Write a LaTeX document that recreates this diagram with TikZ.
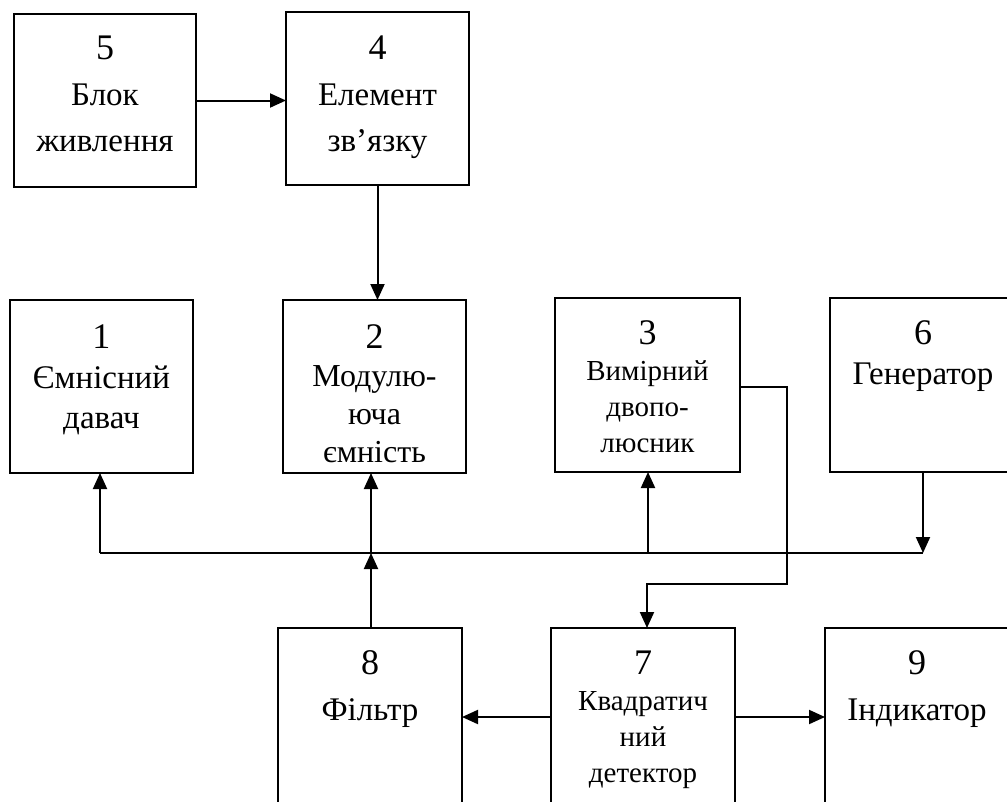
\documentclass[tikz,border=0pt]{standalone}
\usepackage{fontspec}
\setmainfont{Liberation Serif}
\usetikzlibrary{arrows.meta}
\begin{document}
\begin{tikzpicture}[x=1pt,y=-1pt,
  box/.style={draw, line width=2pt, inner sep=0pt, outer sep=0pt},
  txt/.style={align=center, inner sep=0pt, anchor=north},
  big/.style={font=\fontsize{33}{46}\selectfont},
  mid/.style={font=\fontsize{32}{38}\selectfont},
  small/.style={font=\fontsize{29}{36}\selectfont},
  wire/.style={line width=2pt},
  arr/.style={wire, -{Triangle[length=16pt,width=14pt]}}]
\useasboundingbox (0,0) rectangle (1007,801);
\clip (0,0) rectangle (1007,801);
\newcommand{\dg}[1]{{\fontsize{36}{40}\selectfont #1}}
% boxes
\node[box, minimum width=182pt, minimum height=173pt] (b5) at (105,100.5) {};
\node[box, minimum width=183pt, minimum height=173pt] (b4) at (377.5,98.5) {};
\node[box, minimum width=183pt, minimum height=173pt] (b1) at (101.5,386.5) {};
\node[box, minimum width=183pt, minimum height=173pt] (b2) at (374.5,386.5) {};
\node[box, minimum width=185pt, minimum height=174pt] (b3) at (647.5,385) {};
\node[box, minimum width=183pt, minimum height=174pt] (b6) at (921.5,385) {};
\node[box, minimum width=184pt, minimum height=180pt] (b8) at (370,718) {};
\node[box, minimum width=184pt, minimum height=180pt] (b7) at (643,718) {};
\node[box, minimum width=184pt, minimum height=180pt] (b9) at (917,718) {};
% texts
\node[txt, big] (t5) at (105,35.5) {\dg{5}\\Блок\\живлення};
\node[txt, big] (t4) at (377.5,35.5) {\dg{4}\\Елемент\\зв’язку};
\node[txt, font=\fontsize{33}{40}\selectfont] (t1) at (101.5,324.5) {\dg{1}\\Ємнісний\\давач};
\node[txt, mid] (t2) at (374.5,324.5) {\dg{2}\\Модулю-\\юча\\ємність};
\node[txt, small] (t3) at (647.5,320.5) {\dg{3}\\Вимірний\\двопо-\\люсник};
\node[txt, font=\fontsize{33}{40}\selectfont] (t6) at (923,320.5) {\dg{6}\\Генератор};
\node[txt, big] (t8) at (370,650.5) {\dg{8}\\Фільтр};
\node[txt, small] (t7) at (643,650.5) {\dg{7}\\Квадратич\\ний\\детектор};
\node[txt, big] (t9) at (917,650.5) {\dg{9}\\Індикатор};
% coordinates
\coordinate (busL) at (100,553);
\coordinate (busR) at (923,553);
\coordinate (j3) at (648,553);
\coordinate (j8) at (371,553);
\coordinate (k1) at (787,387);
\coordinate (k2) at (647,584);
\coordinate (m) at (0,717);
% connectors
\draw[arr] (b5.east) -- (b4.west |- b5.east);
\draw[arr] (b4.south) -- (b4.south |- b2.north);
\draw[wire] (busL) -- (busR);
\draw[arr] (busL) -- (busL |- b1.south);
\draw[arr] (busR |- b6.south) -- (busR);
\draw[arr] (j3) -- (j3 |- b3.south);
\draw[arr] (j8 |- b8.north) -- (j8);
\draw[arr] (j8) -- (j8 |- b2.south);
\draw[arr] (b3.east |- k1) -- (k1) -- (k1 |- k2) -- (k2) -- (k2 |- b7.north);
\draw[arr] (b7.west |- m) -- (b8.east |- m);
\draw[arr] (b7.east |- m) -- (b9.west |- m);
\end{tikzpicture}
\end{document}
